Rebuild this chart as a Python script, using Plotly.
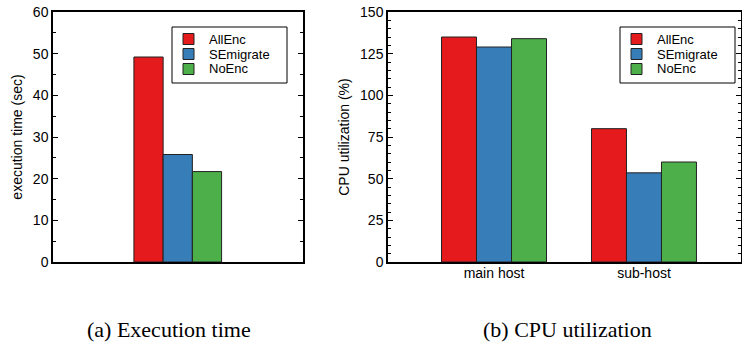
import plotly.graph_objects as go

series = ["AllEnc", "SEmigrate", "NoEnc"]
colors = ["#e41a1c", "#377eb8", "#4daf4a"]

exec_cats = [""]
exec_time = {"AllEnc": [49.2], "SEmigrate": [25.8], "NoEnc": [21.7]}

cpu_cats = ["main host", "sub-host"]
cpu_util = {"AllEnc": [135, 80], "SEmigrate": [129, 53.5], "NoEnc": [134, 60]}

W, H = 742, 342
def px(x):
    return x / W
def py(y):
    return (H - y) / H

fig = go.Figure()
for s, c in zip(series, colors):
    fig.add_trace(go.Bar(x=exec_cats, y=exec_time[s], name=s, marker_color=c,
                         marker_line=dict(color="#222", width=1), showlegend=False,
                         xaxis="x", yaxis="y", offsetgroup=s))
for s, c in zip(series, colors):
    fig.add_trace(go.Bar(x=cpu_cats, y=cpu_util[s], name=s, marker_color=c,
                         marker_line=dict(color="#222", width=1), showlegend=False,
                         xaxis="x2", yaxis="y2", offsetgroup=s))

font = "Liberation Sans, Arial, Helvetica, sans-serif"
serif = "Liberation Serif, Times New Roman, serif"
axis_common = dict(showline=True, linecolor="black", linewidth=1.5, mirror=True,
                   showgrid=False, zeroline=False, automargin=False)
yaxis_common = dict(axis_common, ticks="inside", ticklen=5, tickcolor="black",
                    mirror="ticks", tickfont=dict(size=14, color="black"),
                    minor=dict(ticks="inside", ticklen=3, tickcolor="black", dtick=5))

# custom compact legends (drawn as shapes + text)
shapes, annotations = [], []
for (bx0, bx1, sqx, tx) in [(172, 287, 183, 208), (620, 735, 631, 656)]:
    shapes.append(dict(type="rect", xref="paper", yref="paper",
                       x0=px(bx0), x1=px(bx1), y0=py(83), y1=py(27),
                       line=dict(color="black", width=1), fillcolor="white", layer="above"))
    for i, (s, c) in enumerate(zip(series, colors)):
        cy = 39 + 15 * i
        shapes.append(dict(type="rect", xref="paper", yref="paper",
                           x0=px(sqx), x1=px(sqx + 11), y0=py(cy + 5.5), y1=py(cy - 5.5),
                           line=dict(color="#222", width=1), fillcolor=c, layer="above"))
        annotations.append(dict(text=s, xref="paper", yref="paper", x=px(tx), y=py(cy),
                                xanchor="left", yanchor="middle", showarrow=False,
                                borderpad=0,
                                font=dict(size=13, family=font, color="black")))

annotations += [
    dict(text="(a) Execution time", x=px(169), y=py(329), xref="paper", yref="paper",
         xanchor="center", yanchor="middle", showarrow=False,
         font=dict(family=serif, size=22, color="black")),
    dict(text="(b) CPU utilization", x=px(567), y=py(329), xref="paper", yref="paper",
         xanchor="center", yanchor="middle", showarrow=False,
         font=dict(family=serif, size=22, color="black")),
]

ydom = [py(262), py(12)]
fig.update_layout(
    width=W, height=H, margin=dict(l=0, r=0, t=0, b=0, autoexpand=False),
    paper_bgcolor="white", plot_bgcolor="white",
    font=dict(family=font, color="black"),
    barmode="group", bargap=0.3, bargroupgap=0, showlegend=False,
    xaxis=dict(axis_common, domain=[px(53), px(302.5)], range=[-0.996, 0.996],
               showticklabels=False, ticks=""),
    yaxis=dict(yaxis_common, domain=ydom, range=[0, 60], dtick=10,
               title=dict(text="execution time (sec)", font=dict(size=14), standoff=7)),
    xaxis2=dict(axis_common, domain=[px(388), px(741)], range=[-0.707, 1.647],
                ticks="", tickfont=dict(size=14, color="black"), anchor="y2",
                ticklabelstandoff=-3),
    yaxis2=dict(yaxis_common, domain=ydom, range=[0, 150], dtick=25, anchor="x2",
                title=dict(text="CPU utilization (%)", font=dict(size=14), standoff=7)),
    shapes=shapes, annotations=annotations,
)

fig.write_html("out.html", config={"displayModeBar": False},
               post_script="document.body.style.margin='0px';document.body.style.overflow='hidden';")
